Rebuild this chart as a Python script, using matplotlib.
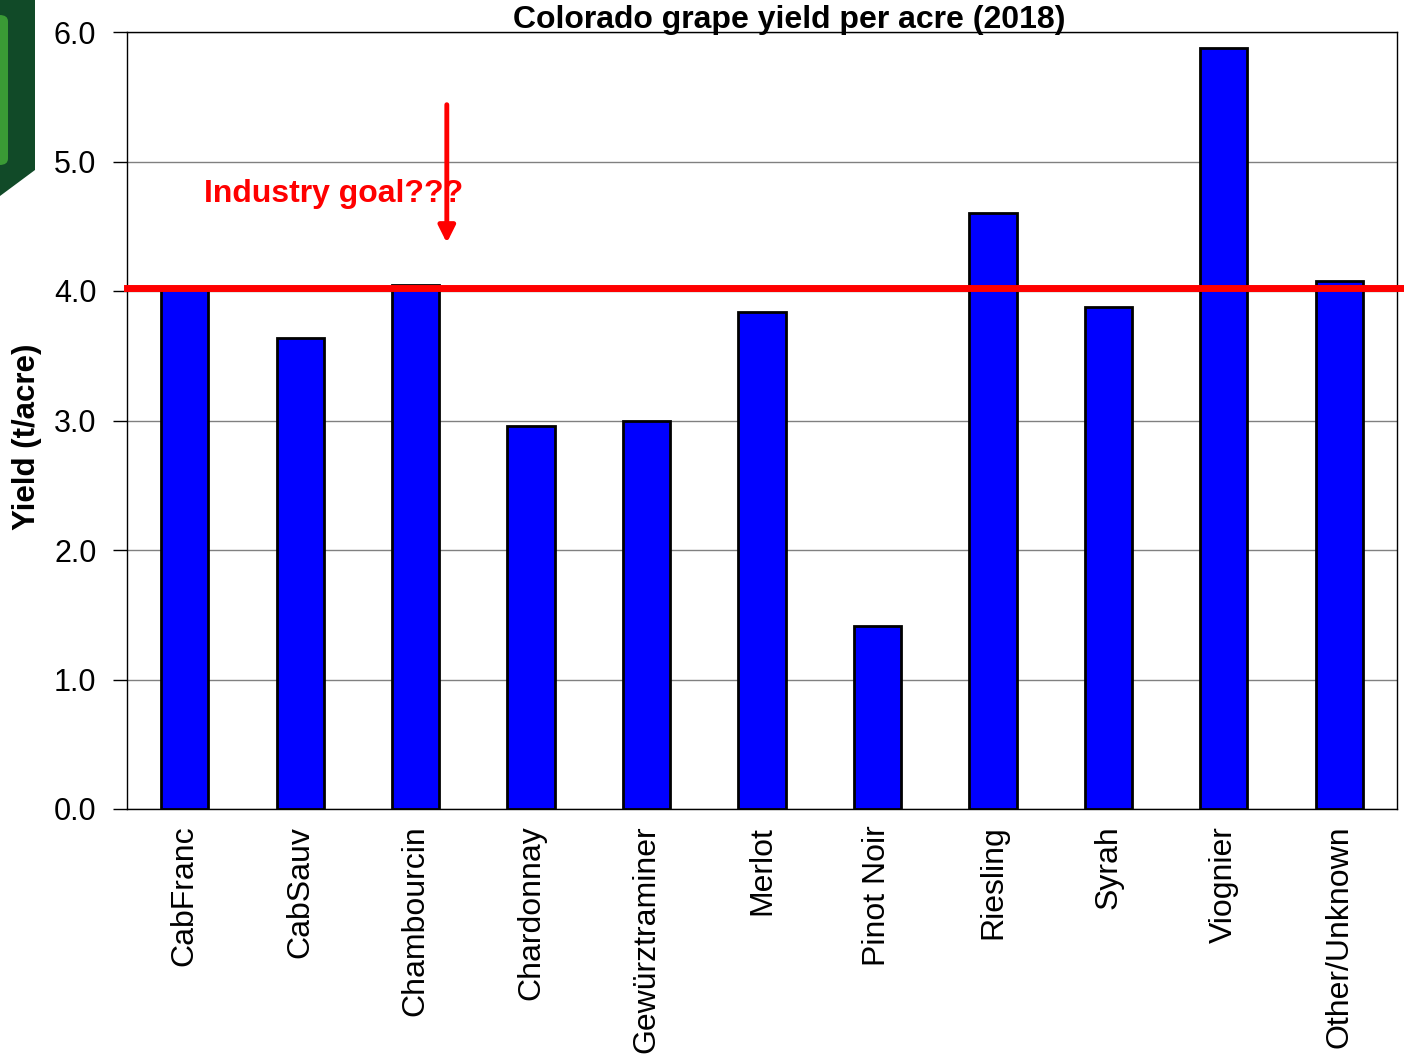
import matplotlib.pyplot as plt
from matplotlib.patches import Polygon, FancyBboxPatch

plt.rcParams['font.family'] = ['Liberation Sans', 'DejaVu Sans']

varieties = ['CabFranc', 'CabSauv', 'Chambourcin', 'Chardonnay', 'Gewürztraminer',
             'Merlot', 'Pinot Noir', 'Riesling', 'Syrah', 'Viognier', 'Other/Unknown']
yields = [4.02, 3.64, 4.05, 2.96, 3.00, 3.84, 1.41, 4.60, 3.88, 5.88, 4.08]
goal = 4.02
yticks = [0.0, 1.0, 2.0, 3.0, 4.0, 5.0, 6.0]

fig = plt.figure(figsize=(14.04, 10.56), dpi=100)
ax = fig.add_axes([127/1404, 1 - 809/1056, 1270/1404, 777/1056])

# green slide decoration in the corner
fig.patches.append(Polygon([[0, 1], [35/1404, 1], [35/1404, 1 - 170/1056],
                            [0, 1 - 196/1056]], closed=True,
                           transform=fig.transFigure, facecolor='#114a28', edgecolor='none'))
fig.patches.append(FancyBboxPatch((-10/1404, 1 - 165/1056), 18/1404, 150/1056,
                                  boxstyle='round,pad=0,rounding_size=0.006',
                                  transform=fig.transFigure, facecolor='#3a9a35', edgecolor='none'))

x = range(len(varieties))
ax.bar(x, yields, width=0.41, color='#0000ff', edgecolor='black', linewidth=2, zorder=3)

ax.set_xlim(-0.5, len(varieties) - 0.5)
ax.set_ylim(0, 6)
ax.set_yticks(yticks)
ax.set_yticklabels([f'{v:.1f}' for v in yticks], fontsize=22)
ax.set_xticks(list(x))
ax.set_xticklabels(varieties, rotation=90, fontsize=23)
ax.tick_params(axis='x', length=0, pad=12)
ax.tick_params(axis='y', length=10, width=1, direction='out', pad=12)
ax.grid(axis='y', color='#808080', linewidth=1, zorder=0)
for s in ax.spines.values():
    s.set_linewidth(1)

# industry goal line, runs past the right edge
ax.plot([-0.5, 11], [goal, goal], color='#ff0000', linewidth=5, clip_on=False, zorder=4)
ax.annotate('', xy=(2.27, 4.35), xytext=(2.27, 5.46),
            arrowprops=dict(arrowstyle='-|>', color='#ff0000', lw=3.5, mutation_scale=25), zorder=5)
ax.text(0.17, 4.75, 'Industry goal???', color='#ff0000', fontsize=23, fontweight='bold',
        va='center', ha='left', zorder=6)

ax.set_ylabel('Yield (t/acre)', fontsize=22.5, fontweight='bold')
ax.yaxis.set_label_coords(-0.067, 0.479)
fig.text(789/1404, 1 - 20/1056, 'Colorado grape yield per acre (2018)', fontsize=23,
         fontweight='bold', ha='center', va='center')

fig.savefig('out.png', dpi=100, facecolor='white')
